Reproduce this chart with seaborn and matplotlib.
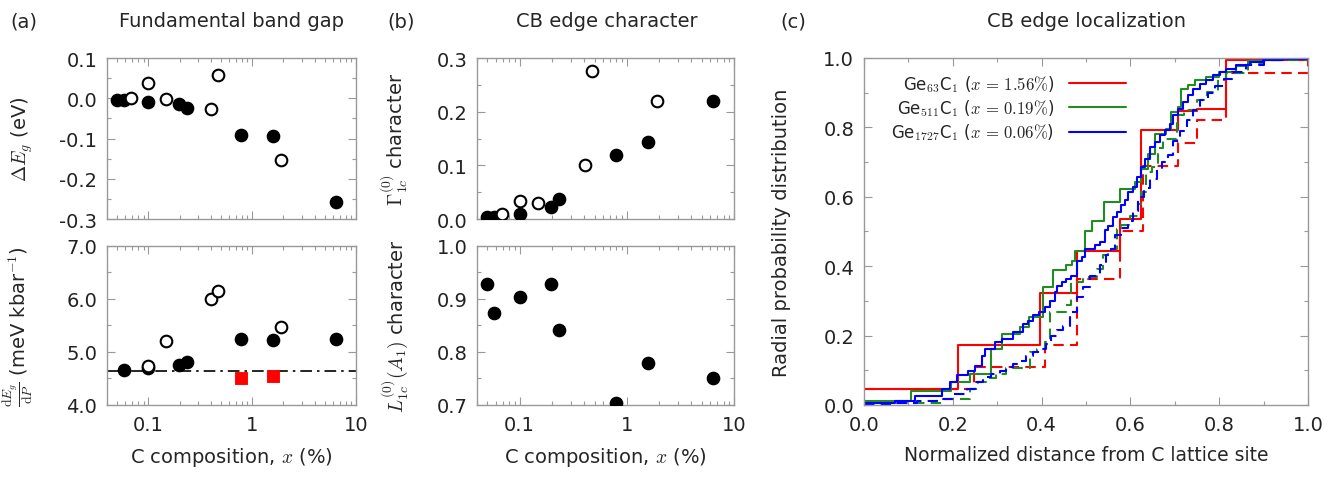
import numpy as np
import pandas as pd
import matplotlib
matplotlib.use("Agg")
import matplotlib.pyplot as plt
import seaborn as sns
from matplotlib.ticker import LogLocator, MultipleLocator, FuncFormatter, NullFormatter

# ---- data ----
# C composition (%) of the supercells
x_filled = [0.05, 0.058, 0.1, 0.198, 0.235, 0.79, 1.58, 6.4]
x_open = [0.068, 0.1, 0.147, 0.405, 0.472, 1.9]

# (a) band gap change (eV)
dEg_filled = [-0.005, -0.005, -0.010, -0.014, -0.025, -0.091, -0.093, -0.258]
dEg_open = [0.001, 0.039, -0.003, -0.027, 0.059, -0.154]

# (a) pressure coefficient (meV/kbar)
dpx_filled = [0.058, 0.1, 0.198, 0.235, 0.79, 1.58, 6.4]
dp_filled = [4.66, 4.69, 4.75, 4.81, 5.245, 5.22, 5.245]
dpx_open = [0.1, 0.147, 0.405, 0.472, 1.9]
dp_open = [4.73, 5.2, 6.0, 6.15, 5.47]
dpx_red = [0.79, 1.58]
dp_red = [4.5, 4.55]
dp_ref = 4.65

# (b) Gamma and L character
gam_filled = [0.003, 0.003, 0.010, 0.023, 0.037, 0.120, 0.144, 0.220]
gam_open = [0.010, 0.034, 0.030, 0.100, 0.275, 0.220]
L_filled = [0.929, 0.873, 0.903, 0.929, 0.841, 0.703, 0.779, 0.750]

# (c) radial probability distributions (step points, post)
red_x = [0.0, 0.212, 0.396, 0.479, 0.576, 0.623, 0.707, 0.749, 0.816, 1.0]
red_y = [0.046, 0.174, 0.324, 0.445, 0.535, 0.793, 0.847, 0.854, 0.993, 0.993]
red_dx = [0.0, 0.248, 0.407, 0.479, 0.576, 0.629, 0.707, 0.75, 0.816, 1.0]
red_dy = [0.046, 0.109, 0.174, 0.363, 0.501, 0.690, 0.755, 0.82, 0.957, 0.993]

green_x = [0.0, 0.106, 0.197, 0.239, 0.287, 0.310, 0.351, 0.372, 0.404, 0.425,
           0.456, 0.468, 0.476, 0.497, 0.513, 0.540, 0.576, 0.61, 0.625, 0.64,
           0.655, 0.68, 0.692, 0.708, 0.715, 0.73, 0.745, 0.77, 0.80, 0.839,
           0.865, 0.9, 1.0]
green_y = [0.0125, 0.041, 0.065, 0.089, 0.16, 0.205, 0.224, 0.253, 0.341, 0.389,
           0.404, 0.416, 0.445, 0.50, 0.53, 0.585, 0.623, 0.642, 0.68, 0.724,
           0.782, 0.796, 0.844, 0.859, 0.912, 0.921, 0.936, 0.945, 0.96, 0.978,
           0.992, 0.997, 0.997]
green_dx = [0.0, 0.18, 0.239, 0.257, 0.284, 0.298, 0.321, 0.374, 0.39, 0.407,
            0.42, 0.456, 0.467, 0.494, 0.524, 0.539, 0.549, 0.569, 0.58, 0.599,
            0.618, 0.624, 0.636, 0.648, 0.662, 0.674, 0.704, 0.72, 0.749, 0.772,
            0.798, 0.816, 0.865, 0.899, 1.0]
green_dy = [0.005, 0.017, 0.046, 0.065, 0.077, 0.089, 0.106, 0.152, 0.16, 0.181,
            0.267, 0.287, 0.354, 0.37, 0.392, 0.431, 0.45, 0.508, 0.52, 0.546,
            0.58, 0.613, 0.671, 0.685, 0.74, 0.767, 0.835, 0.85, 0.88, 0.902,
            0.94, 0.958, 0.984, 0.995, 0.995]

blue_x = [0.0, 0.07, 0.115, 0.175, 0.194, 0.209, 0.235, 0.25, 0.265, 0.272,
          0.295, 0.31, 0.336, 0.359, 0.37, 0.381, 0.395, 0.407, 0.419, 0.43,
          0.434, 0.445, 0.456, 0.467, 0.479, 0.49, 0.497, 0.52, 0.531, 0.542,
          0.55, 0.561, 0.57, 0.58, 0.588, 0.595, 0.606, 0.614, 0.625, 0.632,
          0.644, 0.655, 0.666, 0.677, 0.689, 0.696, 0.707, 0.719, 0.73, 0.741,
          0.756, 0.771, 0.786, 0.801, 0.816, 0.839, 0.869, 0.899, 0.944, 1.0]
blue_y = [0.005, 0.0125, 0.027, 0.046, 0.065, 0.087, 0.099, 0.113, 0.142, 0.162,
          0.181, 0.19, 0.21, 0.234, 0.243, 0.258, 0.268, 0.282, 0.301, 0.325,
          0.342, 0.354, 0.363, 0.373, 0.416, 0.426, 0.45, 0.46, 0.469, 0.503,
          0.517, 0.541, 0.555, 0.575, 0.59, 0.613, 0.628, 0.657, 0.686, 0.71,
          0.743, 0.758, 0.777, 0.791, 0.811, 0.835, 0.854, 0.873, 0.892, 0.912,
          0.926, 0.936, 0.95, 0.96, 0.969, 0.979, 0.988, 0.994, 0.997, 0.997]
blue_dx = [0.0, 0.071, 0.12, 0.164, 0.201, 0.231, 0.25, 0.269, 0.287, 0.306,
           0.321, 0.336, 0.351, 0.366, 0.381, 0.396, 0.411, 0.422, 0.434, 0.449,
           0.464, 0.479, 0.494, 0.509, 0.531, 0.546, 0.557, 0.565, 0.58, 0.595,
           0.606, 0.618, 0.63, 0.645, 0.66, 0.672, 0.685, 0.697, 0.712, 0.727,
           0.742, 0.757, 0.775, 0.79, 0.81, 0.83, 0.86, 0.9, 0.95, 1.0]
blue_dy = [0.002, 0.005, 0.01, 0.017, 0.032, 0.046, 0.065, 0.08, 0.089, 0.099,
           0.108, 0.118, 0.128, 0.142, 0.152, 0.162, 0.176, 0.2, 0.215, 0.229,
           0.267, 0.31, 0.34, 0.373, 0.402, 0.431, 0.45, 0.49, 0.51, 0.53,
           0.56, 0.6, 0.625, 0.65, 0.68, 0.7, 0.72, 0.76, 0.79, 0.82,
           0.85, 0.88, 0.9, 0.92, 0.94, 0.96, 0.98, 0.993, 0.997, 0.997]

legend_labels = [r"Ge$_{63}$C$_1$ ($x\,=\,1.56\%$)",
                 r"Ge$_{511}$C$_1$ ($x\,=\,0.19\%$)",
                 r"Ge$_{1727}$C$_1$ ($x\,=\,0.06\%$)"]

# ---- style ----
sns.set_theme(style="ticks")
plt.rcParams["font.family"] = ["DejaVu Sans"]
plt.rcParams["mathtext.fontset"] = "cm"
plt.rcParams["axes.unicode_minus"] = False
GREY = "#999999"
FS = 14

fig = plt.figure(figsize=(13.31, 4.81), dpi=100)


def style(ax):
    for s in ax.spines.values():
        s.set_color(GREY)
        s.set_linewidth(1.0)
    ax.tick_params(which="both", direction="in", top=True, right=True,
                   color=GREY, labelsize=FS, width=0.8, labelcolor="#222222")
    ax.tick_params(which="major", length=6, pad=7)
    ax.tick_params(which="minor", length=3)


def logx(ax, labels):
    ax.set_xscale("log")
    ax.set_xlim(0.04, 10)
    ax.xaxis.set_major_locator(LogLocator(base=10))
    ax.xaxis.set_minor_locator(LogLocator(base=10, subs=np.arange(2, 10)))
    ax.xaxis.set_minor_formatter(NullFormatter())
    if labels:
        ax.xaxis.set_major_formatter(FuncFormatter(lambda v, p: "%g" % v))
    else:
        ax.xaxis.set_major_formatter(NullFormatter())


def yfmt(ax, lo, hi, step):
    ax.set_ylim(lo, hi)
    ax.yaxis.set_major_locator(MultipleLocator(step))
    ax.yaxis.set_minor_locator(MultipleLocator(step / 2))
    ax.yaxis.set_major_formatter(FuncFormatter(lambda v, p: "%.1f" % (round(v, 3) + 0.0)))


def dots(ax, x, y, filled=True):
    if filled:
        sns.scatterplot(x=x, y=y, ax=ax, s=78, color="black", edgecolor="black",
                        linewidth=1.0, zorder=3)
    else:
        sns.scatterplot(x=x, y=y, ax=ax, s=70, color="white", edgecolor="black",
                        linewidth=1.5, zorder=3)


ax_a1 = fig.add_axes([0.0804, 0.5426, 0.187, 0.3347])
ax_a2 = fig.add_axes([0.0804, 0.156, 0.187, 0.3306])
ax_b1 = fig.add_axes([0.3584, 0.5426, 0.193, 0.3347])
ax_b2 = fig.add_axes([0.3584, 0.156, 0.193, 0.3306])
ax_c = fig.add_axes([0.6491, 0.156, 0.3336, 0.7214])

# (a) top
dots(ax_a1, x_filled, dEg_filled)
dots(ax_a1, x_open, dEg_open, filled=False)
logx(ax_a1, False)
yfmt(ax_a1, -0.3, 0.1, 0.1)
ax_a1.set_ylabel(r"$\Delta E_g$ (eV)", fontsize=FS)

# (a) bottom
ax_a2.axhline(dp_ref, color="black", lw=1.2, ls=(0, (7, 3, 1.5, 3)), zorder=2)
dots(ax_a2, dpx_filled, dp_filled)
dots(ax_a2, dpx_open, dp_open, filled=False)
sns.scatterplot(x=dpx_red, y=dp_red, ax=ax_a2, marker="s", s=65, color="red",
                edgecolor="red", zorder=3)
logx(ax_a2, True)
yfmt(ax_a2, 4.0, 7.0, 1.0)
ax_a2.set_ylabel(r"$\frac{\mathrm{d}E_g}{\mathrm{d}P}$ (meV kbar$^{-1}$)", fontsize=FS)
ax_a2.set_xlabel(r"C composition, $x$ (%)", fontsize=FS, labelpad=8)

# (b) top
dots(ax_b1, x_filled, gam_filled)
dots(ax_b1, x_open, gam_open, filled=False)
logx(ax_b1, False)
yfmt(ax_b1, 0.0, 0.3, 0.1)
ax_b1.set_ylabel(r"$\Gamma_{1c}^{(0)}$ character", fontsize=FS)

# (b) bottom
dots(ax_b2, x_filled, L_filled)
logx(ax_b2, True)
yfmt(ax_b2, 0.7, 1.0, 0.1)
ax_b2.set_ylabel(r"$L_{1c}^{(0)}(A_1)$ character", fontsize=FS)
ax_b2.set_xlabel(r"C composition, $x$ (%)", fontsize=FS, labelpad=8)

for ax in (ax_a1, ax_a2):
    ax.yaxis.set_label_coords(-0.29, 0.5)
for ax in (ax_b1, ax_b2):
    ax.yaxis.set_label_coords(-0.26, 0.5)

# (c)
curves = [(red_x, red_y, red_dx, red_dy, "#ff0000"),
          (green_x, green_y, green_dx, green_dy, "#228b22"),
          (blue_x, blue_y, blue_dx, blue_dy, "#0000ff")]
for (sx, sy, dx, dy, col), lab in zip(curves, legend_labels):
    sns.lineplot(x=sx, y=sy, ax=ax_c, color=col, lw=1.5, drawstyle="steps-post",
                 estimator=None, sort=False, label=lab)
    sns.lineplot(x=dx, y=dy, ax=ax_c, color=col, lw=1.5, drawstyle="steps-post",
                 estimator=None, sort=False, ls=(0, (5, 3)), label="_nolegend_")
ax_c.set_xlim(0, 1)
ax_c.set_ylim(0, 1.0)
ax_c.xaxis.set_major_locator(MultipleLocator(0.2))
ax_c.xaxis.set_minor_locator(MultipleLocator(0.1))
ax_c.yaxis.set_major_locator(MultipleLocator(0.2))
ax_c.yaxis.set_minor_locator(MultipleLocator(0.1))
ax_c.xaxis.set_major_formatter(FuncFormatter(lambda v, p: "%.1f" % v))
ax_c.yaxis.set_major_formatter(FuncFormatter(lambda v, p: "%.1f" % v))
ax_c.set_xlabel("Normalized distance from C lattice site", fontsize=FS - 0.5, labelpad=8)
ax_c.set_ylabel("Radial probability distribution", fontsize=FS)
ax_c.yaxis.set_label_coords(-0.165, 0.5)
ax_c.legend(loc="upper left", bbox_to_anchor=(0.035, 0.99), frameon=False,
            markerfirst=False, handlelength=3.4, fontsize=12,
            labelspacing=0.2, handletextpad=0.9, borderaxespad=0.3)

for ax in (ax_a1, ax_a2, ax_b1, ax_b2, ax_c):
    style(ax)

# panel titles
fig.text(0.008, 0.955, "(a)", fontsize=FS, va="center")
fig.text(0.174, 0.955, "Fundamental band gap", fontsize=FS, va="center", ha="center")
fig.text(0.291, 0.955, "(b)", fontsize=FS, va="center")
fig.text(0.456, 0.955, "CB edge character", fontsize=FS, va="center", ha="center")
fig.text(0.586, 0.955, "(c)", fontsize=FS, va="center")
fig.text(0.816, 0.955, "CB edge localization", fontsize=FS, va="center", ha="center")

fig.savefig("out.png", dpi=100)
